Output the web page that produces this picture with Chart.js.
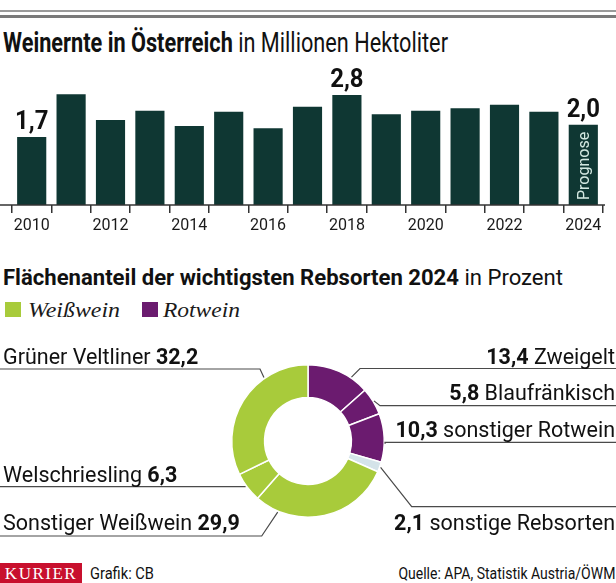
<!DOCTYPE html>
<html lang="de">
<head>
    <meta charset="UTF-8">
    <title>Weinernte in Österreich</title>
    <script src="https://cdn.jsdelivr.net/npm/chart.js"></script>
    <style>
        body { margin: 0; background: #fff; }
        #page { position: relative; width: 616px; height: 583px; overflow: hidden; font-family: Roboto, sans-serif; color: #111; }
        .rule { position: absolute; left: 0; width: 616px; }
        .fit { position: absolute; white-space: nowrap; transform-origin: left top; }
        .fit.right { transform-origin: right top; }
        canvas { position: absolute; left: 0; }
        .sq { position: absolute; top: 302px; width: 16px; height: 15px; }
        .lgtxt { font-family: "Liberation Serif", serif; font-style: italic; font-size: 22px; line-height: 22px; top: 299px; color: #1a1a1a; }
        #brand { position: absolute; left: 0; top: 563px; width: 82px; height: 20px; background: #c8102e; color: #fff;
                 font-family: "Liberation Serif", serif; font-size: 17px; line-height: 21px; letter-spacing: 1.5px; text-align: center; }
    </style>
</head>
<body>
<div id="page">
    <div class="rule" style="top:10px; height:2px; background:#9a9a9a;"></div>
    <div class="rule" style="top:15px; height:2.5px; background:#7a7a7a;"></div>

    <div class="fit" data-w="445" style="left:3px; top:30px; font-size:27px; line-height:27px;"><b>Weinernte in Österreich</b> in Millionen Hektoliter</div>
    <canvas id="harvestChart" width="616" height="180" style="top:60px;"></canvas>

    <div class="fit" data-w="560" style="left:3px; top:266px; font-size:22.5px; line-height:22.5px;"><b>Flächenanteil der wichtigsten Rebsorten 2024</b> in Prozent</div>
    <canvas id="varietyChart" width="616" height="210" style="top:335px;"></canvas>

    <div id="brand">KURIER</div>
    <div class="fit" data-w="64" style="left:90px; top:565px; font-size:17px; line-height:17px;">Grafik: CB</div>
    <div class="fit right" data-w="217" style="right:1px; top:565px; font-size:17px; line-height:17px;">Quelle: APA, Statistik Austria/ÖWM</div>
</div>
<script>
    // Weinernte in Mio. hl
    const years = ['2010', '2011', '2012', '2013', '2014', '2015', '2016', '2017', '2018', '2019', '2020', '2021', '2022', '2023', '2024'];
    const harvest = [1.73, 2.82, 2.16, 2.40, 2.01, 2.37, 1.95, 2.50, 2.80, 2.31, 2.40, 2.46, 2.55, 2.37, 2.04];
    const labeledYears = ['2010', '2018', '2024'];
    const forecastYear = '2024';
    const forecastNote = 'Prognose';

    // Rebsorten 2024, Anteil in Prozent (im Uhrzeigersinn ab 12 Uhr)
    const varieties = ['Zweigelt', 'Blaufränkisch', 'sonstiger Rotwein', 'sonstige Rebsorten', 'Sonstiger Weißwein', 'Welschriesling', 'Grüner Veltliner'];
    const shares = [13.4, 5.8, 10.3, 2.1, 29.9, 6.3, 32.2];
    const groups = ['Rotwein', 'Rotwein', 'Rotwein', 'andere', 'Weißwein', 'Weißwein', 'Weißwein'];
    const legendGroups = ['Weißwein', 'Rotwein'];

    const groupColors = { 'Weißwein': '#a8cb3b', 'Rotwein': '#6b1b6f', 'andere': '#d4e3e9' };
    const barColor = '#0f3733';
    const fmt = v => v.toFixed(1).replace('.', ',');

    // legend placement: square x, text x, text width
    const legendLayout = [
        { sq: 5, x: 28, w: 92 },
        { sq: 142, x: 163, w: 77 }
    ];

    // label rows for the doughnut (canvas coords)
    const labelLayout = [
        { side: 'right', textY: 28.5, lineY: 33.5, elbowX: 360, at: 0.71 },
        { side: 'right', textY: 65,   lineY: 70.7, elbowX: 380, at: 0.5 },
        { side: 'right', textY: 101.7, lineY: 107.3, elbowX: 385, at: 0.62 },
        { side: 'right', textY: 195,  lineY: 171.7, elbowX: 411.7, at: 0.5 },
        { side: 'left',  textY: 195,  lineY: 201, elbowX: 261.7, at: 0.83 },
        { side: 'left',  textY: 146.7, lineY: 151.7, elbowX: 243, at: 0.55 },
        { side: 'left',  textY: 28.5, lineY: 34, elbowX: 260, at: 0.70 }
    ];

    function drawParts(ctx, parts, x, y, align, size, squeeze) {
        let total = 0;
        parts.forEach(p => {
            ctx.font = (p.bold ? '700 ' : '400 ') + size + 'px Roboto';
            p.w = ctx.measureText(p.text).width * squeeze;
            total += p.w;
        });
        let cx = align === 'right' ? x - total : x;
        parts.forEach(p => {
            ctx.save();
            ctx.font = (p.bold ? '700 ' : '400 ') + size + 'px Roboto';
            ctx.translate(cx, y);
            ctx.scale(squeeze, 1);
            ctx.fillText(p.text, 0, 0);
            ctx.restore();
            cx += p.w;
        });
    }

    const axisLine = {
        id: 'axisLine',
        afterDraw(chart) {
            const ctx = chart.ctx, y = chart.chartArea.bottom;
            ctx.save();
            ctx.strokeStyle = '#333';
            ctx.lineWidth = 1.5;
            ctx.beginPath();
            ctx.moveTo(0, y);
            ctx.lineTo(chart.chartArea.right + 2, y);
            ctx.stroke();
            ctx.restore();
        }
    };

    const valueLabels = {
        id: 'valueLabels',
        afterDatasetsDraw(chart) {
            const ctx = chart.ctx;
            const meta = chart.getDatasetMeta(0);
            ctx.save();
            ctx.fillStyle = '#111';
            ctx.textAlign = 'center';
            ctx.textBaseline = 'alphabetic';
            labeledYears.forEach(yr => {
                const i = years.indexOf(yr);
                const bar = meta.data[i];
                ctx.save();
                ctx.translate(bar.x, bar.y - 8);
                ctx.scale(0.92, 1);
                ctx.font = '700 26px Roboto';
                ctx.fillText(fmt(harvest[i]), 0, 0);
                ctx.restore();
            });
            // forecast note, rotated inside the bar
            const f = meta.data[years.indexOf(forecastYear)];
            const room = (f.base - f.y) - 12;
            ctx.translate(f.x, f.base - 5);
            ctx.rotate(-Math.PI / 2);
            ctx.font = '400 17px Roboto';
            const squeeze = Math.min(1, room / ctx.measureText(forecastNote).width);
            ctx.scale(squeeze, 1);
            ctx.textAlign = 'left';
            ctx.textBaseline = 'middle';
            ctx.fillStyle = '#d3e8e1';
            ctx.fillText(forecastNote, 0, 1);
            ctx.restore();
        }
    };

    const leaderLabels = {
        id: 'leaderLabels',
        afterDraw(chart) {
            const ctx = chart.ctx;
            const meta = chart.getDatasetMeta(0);
            meta.data.forEach((arc, i) => {
                const L = labelLayout[i];
                const a = arc.startAngle + L.at * (arc.endAngle - arc.startAngle);
                const r = arc.outerRadius + 1;
                ctx.save();
                ctx.strokeStyle = '#4a4a4a';
                ctx.lineWidth = 1.2;
                ctx.beginPath();
                ctx.moveTo(arc.x + Math.cos(a) * r, arc.y + Math.sin(a) * r);
                ctx.lineTo(L.elbowX, L.lineY);
                ctx.lineTo(L.side === 'left' ? 0 : chart.width, L.lineY);
                ctx.stroke();
                ctx.fillStyle = '#111';
                ctx.textBaseline = 'alphabetic';
                const name = { text: varieties[i] }, val = { text: fmt(shares[i]), bold: true }, sp = { text: ' ' };
                if (L.side === 'left') drawParts(ctx, [name, sp, val], 3, L.textY, 'left', 21.5, 1);
                else drawParts(ctx, [val, sp, name], 615, L.textY, 'right', 21.5, 1);
                ctx.restore();
            });
        }
    };

    new Chart(document.getElementById('harvestChart'), {
        type: 'bar',
        data: {
            labels: years,
            datasets: [{ data: harvest, backgroundColor: barColor, barPercentage: 0.74, categoryPercentage: 1 }]
        },
        options: {
            responsive: false,
            animation: false,
            layout: { padding: { left: 12, right: 13, top: 0, bottom: 0 } },
            plugins: { legend: { display: false }, tooltip: { enabled: false } },
            scales: {
                x: {
                    afterFit: s => { s.height = 35; },
                    grid: { offset: true, drawOnChartArea: false, tickLength: 8, color: '#333', lineWidth: 1.5 },
                    border: { display: false },
                    ticks: {
                        autoSkip: false, maxRotation: 0, padding: 3, color: '#1a1a1a',
                        font: { family: 'Roboto', size: 16 },
                        callback: (v, i) => i % 2 === 0 ? years[i] : ''
                    }
                },
                y: { display: false, min: 0, max: 3.69 }
            }
        },
        plugins: [axisLine, valueLabels]
    });

    new Chart(document.getElementById('varietyChart'), {
        type: 'doughnut',
        data: {
            labels: varieties,
            datasets: [{
                data: shares,
                backgroundColor: groups.map(g => groupColors[g]),
                borderColor: '#fff',
                borderWidth: 1.5
            }]
        },
        options: {
            responsive: false,
            animation: false,
            cutout: '57%',
            layout: { padding: { left: 231, right: 231, top: 29, bottom: 27 } },
            plugins: { legend: { display: false }, tooltip: { enabled: false } }
        },
        plugins: [leaderLabels]
    });

    // legend
    const page = document.getElementById('page');
    legendGroups.forEach((g, i) => {
        const sq = document.createElement('span');
        sq.className = 'sq';
        sq.style.left = legendLayout[i].sq + 'px';
        sq.style.background = groupColors[g];
        const t = document.createElement('span');
        t.className = 'fit lgtxt';
        t.style.left = legendLayout[i].x + 'px';
        t.dataset.w = legendLayout[i].w;
        t.textContent = g;
        page.appendChild(sq);
        page.appendChild(t);
    });

    // squeeze headings to the condensed width of the original
    document.querySelectorAll('.fit').forEach(el => {
        const w = el.getBoundingClientRect().width;
        el.style.transform = 'scaleX(' + (el.dataset.w / w) + ')';
    });
</script>
</body>
</html>
